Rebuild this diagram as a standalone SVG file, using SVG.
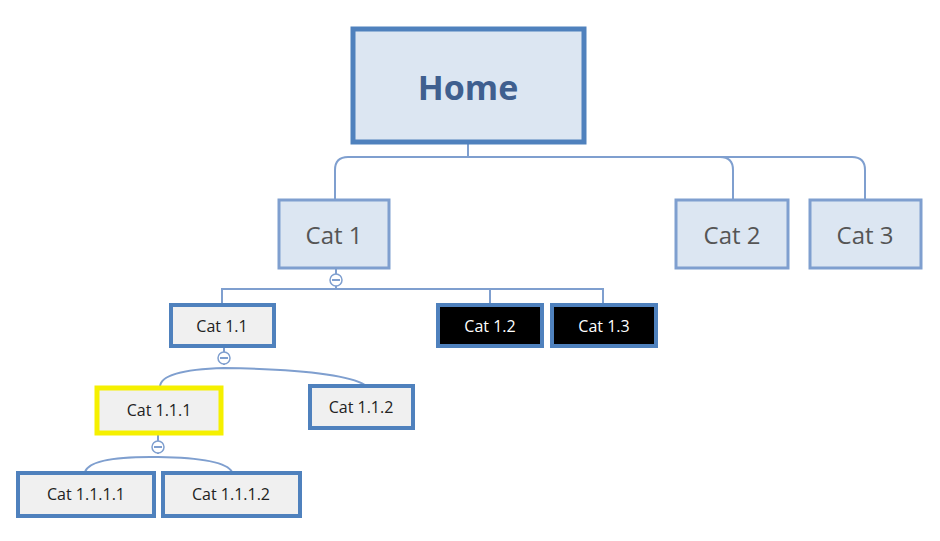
<svg xmlns="http://www.w3.org/2000/svg" width="940" height="541" viewBox="0 0 940 541">
<style>
text{font-family:"Open Sans","Noto Sans","DejaVu Sans",sans-serif;text-anchor:middle;dominant-baseline:central}
.n{fill:#f0f0f0;stroke:#4f81bd;stroke-width:4}
.c{fill:#dce6f2;stroke:#7f9fcf;stroke-width:3}
.d{fill:#000;stroke:#4f81bd;stroke-width:4}
.l{fill:none;stroke:#7f9fcf;stroke-width:2}
.t{font-size:16px;fill:#222}
.m{fill:#fff;stroke:#7f9fcf;stroke-width:1.5}
</style>
<rect width="940" height="541" fill="#fff"/>
<g id="connectors">
<path class="l" d="M468 143V157M335 200V170Q335 157 348 157H852Q865 157 865 170V200M733 200V170Q733 157 720 157"/>
<path class="l" d="M336 268V289M222 303V289H603V303M490 289V303"/>
<path class="l" d="M224 347V365M160 387Q160 370 224 368Q340 370 365 385"/>
<path class="l" d="M158 433V454M85 472Q90 456 158 457Q225 458 232 472"/>
<circle class="m" cx="336" cy="280" r="6"/><path class="l" stroke-width="1.2" d="M332 280H340"/>
<circle class="m" cx="224" cy="358" r="6"/><path class="l" stroke-width="1.2" d="M220 358H228"/>
<circle class="m" cx="158" cy="447" r="6"/><path class="l" stroke-width="1.2" d="M154 447H162"/>
</g>
<g id="home"><rect x="353" y="29" width="231" height="113" fill="#dce6f2" stroke="#4f81bd" stroke-width="5"/><text x="468" y="87" font-size="34" font-weight="bold" fill="#3f5f8f">Home</text></g>
<g id="cat1"><rect class="c" x="279" y="200" width="110" height="68"/><text x="334" y="234" font-size="24" fill="#555">Cat 1</text></g>
<g id="cat2"><rect class="c" x="676" y="200" width="112" height="68"/><text x="732" y="234" font-size="24" fill="#555">Cat 2</text></g>
<g id="cat3"><rect class="c" x="810" y="200" width="111" height="68"/><text x="865" y="234" font-size="24" fill="#555">Cat 3</text></g>
<g id="cat11"><rect class="n" x="171" y="305" width="103" height="41"/><text class="t" x="222" y="326">Cat 1.1</text></g>
<g id="cat12"><rect class="d" x="438" y="305" width="104" height="41"/><text class="t" x="490" y="326" fill="#fff" style="fill:#fff">Cat 1.2</text></g>
<g id="cat13"><rect class="d" x="552" y="305" width="104" height="41"/><text class="t" x="604" y="326" style="fill:#fff">Cat 1.3</text></g>
<g id="cat111"><rect x="97" y="388" width="124" height="45" fill="#f0f0f0" stroke="#f5f000" stroke-width="5"/><text class="t" x="159" y="410">Cat 1.1.1</text></g>
<g id="cat112"><rect class="n" x="310" y="386" width="103" height="42"/><text class="t" x="361" y="407">Cat 1.1.2</text></g>
<g id="cat1111"><rect class="n" x="18" y="473" width="136" height="43"/><text class="t" x="86" y="494">Cat 1.1.1.1</text></g>
<g id="cat1112"><rect class="n" x="163" y="473" width="137" height="43"/><text class="t" x="231" y="494">Cat 1.1.1.2</text></g>
</svg>
